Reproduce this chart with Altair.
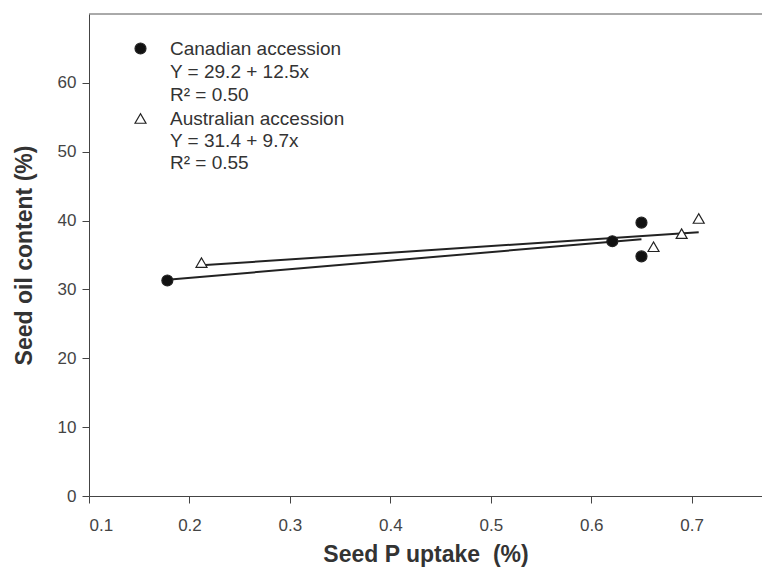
import altair as alt
import pandas as pd

# Observed points
can_x = [0.178, 0.621, 0.650, 0.650]
can_y = [31.3, 37.0, 39.7, 34.8]
aus_x = [0.212, 0.662, 0.690, 0.707]
aus_y = [33.9, 36.2, 38.1, 40.3]

# Regression line endpoints
can_line_x = [0.178, 0.650]
can_line_y = [31.4, 37.3]
aus_line_x = [0.212, 0.707]
aus_line_y = [33.5, 38.3]

groups = ["Canadian accession", "Australian accession"]
eq_lines = ["Y = 29.2 + 12.5x", "R² = 0.50", "Y = 31.4 + 9.7x", "R² = 0.55"]

x_ticks = [0.1, 0.2, 0.3, 0.4, 0.5, 0.6, 0.7]
y_ticks = [0, 10, 20, 30, 40, 50, 60]

W, H = 673, 482
FONT = "Liberation Sans"

pts = pd.DataFrame({
    "x": can_x + aus_x,
    "y": can_y + aus_y,
    "g": [groups[0]] * len(can_x) + [groups[1]] * len(aus_x),
})
lines = pd.DataFrame({
    "x": can_line_x + aus_line_x,
    "y": can_line_y + aus_line_y,
    "g": [groups[0]] * 2 + [groups[1]] * 2,
})
eq = pd.DataFrame({"t": eq_lines, "py": [58, 81, 127, 149]})

xs = alt.Scale(domain=[0.1, 0.77], nice=False, zero=False)
ys = alt.Scale(domain=[0, 70], nice=False)

xax = alt.Axis(values=x_ticks, format=".1f", title="Seed P uptake\u00a0 (%)", grid=False,
               titlePadding=10, labelPadding=14)
yax = alt.Axis(values=y_ticks, title="Seed oil content (%)", grid=False, titlePadding=21,
               labelPadding=6)

leg = dict(title=None, orient="none", legendX=42, legendY=25, padding=0, rowPadding=50,
           labelOffset=20, labelLimit=0, labelFontSize=19, labelColor="#333", labelFont=FONT,
           symbolSize=120, symbolStrokeWidth=1.2)

line_layer = alt.Chart(lines).mark_line(color="#222", strokeWidth=2).encode(
    x=alt.X("x:Q", scale=xs, axis=xax),
    y=alt.Y("y:Q", scale=ys, axis=yax),
    detail="g:N",
)

point_layer = alt.Chart(pts).mark_point(size=120, strokeWidth=1.2, opacity=1).encode(
    x=alt.X("x:Q", scale=xs),
    y=alt.Y("y:Q", scale=ys),
    shape=alt.Shape("g:N", scale=alt.Scale(domain=groups, range=["circle", "triangle-up"]),
                    legend=alt.Legend(**leg)),
    fill=alt.Fill("g:N", scale=alt.Scale(domain=groups, range=["#111", "#fff"]),
                  legend=alt.Legend(**leg)),
    stroke=alt.value("#222"),
)

eq_layer = alt.Chart(eq).mark_text(align="left", baseline="middle", fontSize=19,
                                   font=FONT, color="#333").encode(
    x=alt.value(81),
    y=alt.Y("py:Q", scale=None),
    text="t:N",
)

top_rule = alt.Chart(pd.DataFrame({"y": [70]})).mark_rule(color="#555", strokeWidth=1).encode(
    y=alt.Y("y:Q", scale=ys),
    x=alt.value(0),
    x2=alt.value(W),
)

chart = alt.layer(line_layer, point_layer, eq_layer, top_rule).properties(
    width=W, height=H,
    autosize=alt.AutoSizeParams(type="none"),
    padding={"left": 81, "top": 6, "right": 0, "bottom": 71},
).configure_view(stroke=None).configure_axis(
    labelFont=FONT, labelFontSize=17, labelColor="#444",
    titleFont=FONT, titleFontSize=23, titleFontWeight="bold", titleColor="#333",
    domainColor="#444", tickColor="#444", tickSize=7,
)

chart.save("out.html", embed_options={"renderer": "svg", "actions": False})
